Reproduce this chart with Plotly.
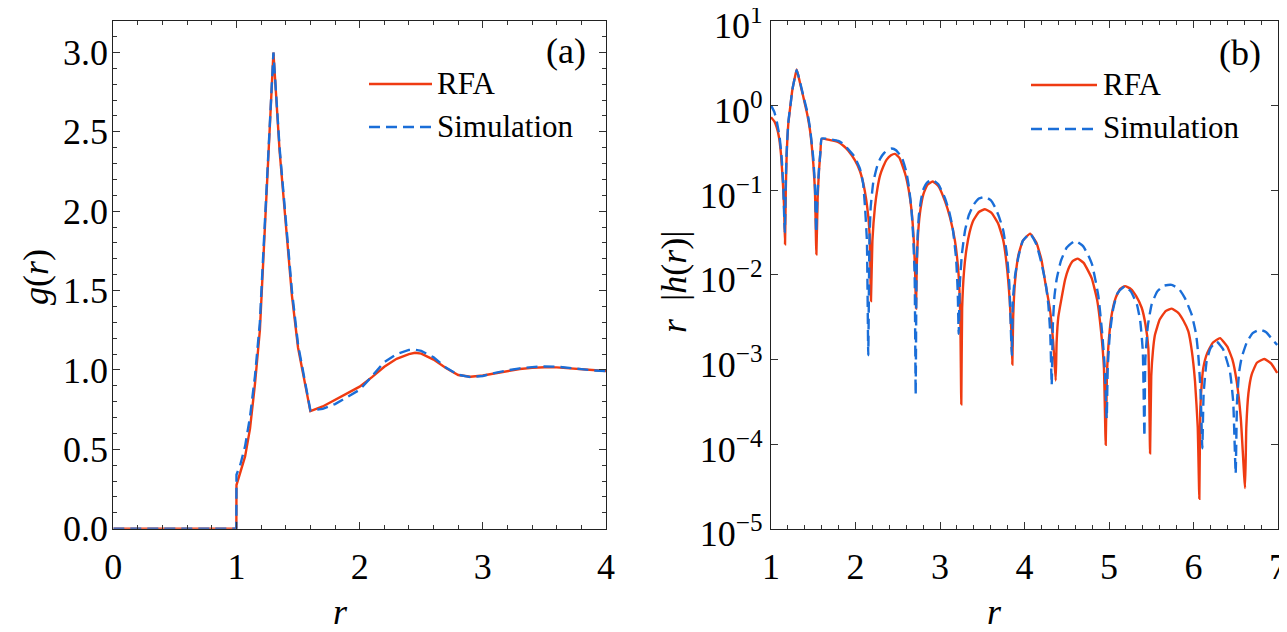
import plotly.graph_objects as go

# ---------------- data: panel (a) g(r) ----------------
r_g = [0, 0.999, 1.0, 1.03, 1.07, 1.11, 1.15, 1.19, 1.2, 1.25, 1.3, 1.35, 1.4, 1.45, 1.5,
       1.55, 1.6, 1.7, 1.8, 1.9, 2.0, 2.1, 2.2, 2.3, 2.4, 2.45, 2.5, 2.6, 2.7, 2.8, 2.9,
       3.0, 3.1, 3.2, 3.3, 3.4, 3.5, 3.6, 3.7, 3.8, 3.9, 4.0]
g_rfa = [0, 0, 0.275, 0.355, 0.455, 0.63, 0.91, 1.25, 1.41, 2.2, 3.0, 2.38, 1.95, 1.47, 1.14,
         0.93, 0.74, 0.77, 0.81, 0.85, 0.895, 0.955, 1.02, 1.07, 1.10, 1.108, 1.103, 1.065, 1.012, 0.968, 0.957,
         0.965, 0.98, 0.994, 1.006, 1.013, 1.017, 1.016, 1.011, 1.003, 0.997, 0.993]
g_sim = [0, 0, 0.34, 0.40, 0.52, 0.705, 0.96, 1.30, 1.46, 2.24, 3.0, 2.40, 1.97, 1.50, 1.16,
         0.94, 0.745, 0.755, 0.785, 0.83, 0.875, 0.96, 1.05, 1.10, 1.126, 1.127, 1.12, 1.08, 1.015, 0.97, 0.955,
         0.962, 0.982, 0.997, 1.01, 1.018, 1.022, 1.021, 1.015, 1.005, 0.997, 0.993]

# ---------------- data: panel (b) r|h(r)| ----------------
r_h_rfa = [1.000, 1.040, 1.067, 1.095, 1.118, 1.140, 1.155, 1.166, 1.175, 1.185, 1.205, 1.230,
           1.252, 1.280, 1.304, 1.340, 1.383, 1.430, 1.462, 1.501, 1.520, 1.537, 1.552, 1.568,
           1.585, 1.600, 1.700, 1.797, 1.860, 1.915, 1.994, 2.050, 2.100, 2.150, 2.170, 2.183,
           2.200, 2.230, 2.260, 2.290, 2.330, 2.369, 2.420, 2.467, 2.520, 2.586, 2.630, 2.665,
           2.690, 2.705, 2.716, 2.725, 2.743, 2.770, 2.803, 2.850, 2.913, 2.980, 3.059, 3.120,
           3.177, 3.220, 3.240, 3.252, 3.262, 3.285, 3.316, 3.350, 3.394, 3.460, 3.532, 3.610,
           3.690, 3.750, 3.789, 3.825, 3.846, 3.856, 3.866, 3.888, 3.930, 3.980, 4.066, 4.140,
           4.200, 4.243, 4.300, 4.340, 4.369, 4.380, 4.400, 4.440, 4.480, 4.519, 4.570, 4.630,
           4.700, 4.795, 4.860, 4.906, 4.940, 4.961, 4.975, 5.000, 5.032, 5.080, 5.130, 5.190,
           5.260, 5.320, 5.387, 5.430, 5.466, 5.486, 5.500, 5.520, 5.544, 5.600, 5.670, 5.742,
           5.820, 5.880, 5.939, 5.980, 6.018, 6.050, 6.069, 6.080, 6.100, 6.116, 6.160, 6.230,
           6.314, 6.400, 6.460, 6.511, 6.560, 6.610, 6.625, 6.650, 6.688, 6.750, 6.838, 6.920, 6.990]
h_rfa = [0.726, 0.646, 0.553, 0.417, 0.267, 0.126, 0.0631, 0.0229, 0.100, 0.251, 0.607, 1.0,
         1.507, 2.089, 2.649, 1.905, 1.253, 0.776, 0.505, 0.204, 0.100, 0.0174, 0.0794, 0.170,
         0.282, 0.402, 0.389, 0.367, 0.331, 0.292, 0.224, 0.170, 0.110, 0.0501, 0.0251, 0.0049,
         0.0251, 0.0631, 0.105, 0.148, 0.191, 0.229, 0.257, 0.267, 0.240, 0.158, 0.100, 0.0550,
         0.0251, 0.0112, 0.00398, 0.0126, 0.0331, 0.0603, 0.0891, 0.115, 0.126, 0.112, 0.0741, 0.0468,
         0.0251, 0.0100, 0.00316, 0.000295, 0.00398, 0.0112, 0.0209, 0.0316, 0.0437, 0.0550, 0.0594, 0.0537,
         0.0398, 0.0251, 0.0132, 0.00501, 0.00200, 0.000871, 0.00316, 0.00832, 0.0174, 0.0251, 0.0306, 0.0240,
         0.0151, 0.00841, 0.00398, 0.00158, 0.000562, 0.00158, 0.00316, 0.00537, 0.00871, 0.0117, 0.0145, 0.0155,
         0.0138, 0.00912, 0.00501, 0.00214, 0.000794, 0.0000977, 0.000631, 0.00178, 0.00339, 0.00537, 0.00676, 0.00733,
         0.00676, 0.00562, 0.00407, 0.00263, 0.00135, 0.0000776, 0.000631, 0.00126, 0.00195, 0.00295, 0.00372, 0.00398,
         0.00355, 0.00288, 0.00214, 0.00126, 0.00055, 0.000158, 0.0000226, 0.000251, 0.000562, 0.000794, 0.00117, 0.00158,
         0.00178, 0.00141, 0.00100, 0.00055, 0.000200, 0.0000302, 0.000158, 0.000398, 0.000661, 0.000912, 0.00101, 0.000891, 0.000692]

r_h_sim = [1.000, 1.040, 1.070, 1.100, 1.125, 1.145, 1.163, 1.175, 1.185, 1.205, 1.230, 1.252,
           1.280, 1.304, 1.340, 1.383, 1.430, 1.462, 1.500, 1.520, 1.535, 1.550, 1.568, 1.585,
           1.600, 1.700, 1.797, 1.860, 1.915, 1.985, 2.053, 2.090, 2.112, 2.135, 2.151, 2.165,
           2.180, 2.210, 2.250, 2.290, 2.340, 2.390, 2.428, 2.480, 2.550, 2.600, 2.630, 2.660,
           2.680, 2.700, 2.712, 2.722, 2.735, 2.750, 2.775, 2.800, 2.850, 2.910, 2.980, 3.060,
           3.110, 3.150, 3.190, 3.210, 3.221, 3.235, 3.260, 3.296, 3.340, 3.400, 3.460, 3.532,
           3.600, 3.650, 3.700, 3.749, 3.790, 3.820, 3.850, 3.862, 3.890, 3.930, 3.980, 4.066,
           4.140, 4.200, 4.250, 4.282, 4.305, 4.322, 4.335, 4.355, 4.381, 4.430, 4.500, 4.598,
           4.690, 4.750, 4.800, 4.874, 4.920, 4.950, 4.973, 4.985, 5.010, 5.050, 5.100, 5.190,
           5.260, 5.330, 5.370, 5.400, 5.419, 5.430, 5.460, 5.505, 5.570, 5.650, 5.742, 5.830,
           5.900, 5.978, 6.030, 6.057, 6.085, 6.104, 6.120, 6.156, 6.200, 6.274, 6.350, 6.432,
           6.470, 6.499, 6.515, 6.540, 6.570, 6.630, 6.700, 6.787, 6.860, 6.930, 6.990]
h_sim = [1.0, 0.832, 0.631, 0.437, 0.251, 0.112, 0.0316, 0.126, 0.282, 0.631, 1.0, 1.514,
         2.089, 2.630, 1.950, 1.288, 0.832, 0.537, 0.240, 0.112, 0.0316, 0.0891, 0.178, 0.282,
         0.407, 0.398, 0.380, 0.347, 0.302, 0.251, 0.178, 0.120, 0.0646, 0.0251, 0.00112, 0.0251,
         0.0631, 0.123, 0.182, 0.233, 0.275, 0.302, 0.309, 0.295, 0.240, 0.166, 0.112, 0.0631,
         0.0316, 0.0100, 0.00038, 0.0100, 0.0282, 0.0501, 0.0759, 0.100, 0.123, 0.132, 0.117, 0.0794,
         0.0550, 0.0355, 0.0158, 0.00631, 0.00200, 0.00794, 0.0178, 0.0331, 0.0501, 0.0676, 0.0794, 0.0832,
         0.0759, 0.0631, 0.0479, 0.0331, 0.0178, 0.00794, 0.00112, 0.00501, 0.0100, 0.0166, 0.0251, 0.0306,
         0.0229, 0.0138, 0.00794, 0.00447, 0.00200, 0.000501, 0.00251, 0.00562, 0.00891, 0.0145, 0.0209, 0.0251,
         0.0219, 0.0174, 0.0132, 0.00562, 0.00200, 0.000794, 0.000200, 0.000794, 0.00200, 0.00398, 0.00603, 0.00733,
         0.00631, 0.00447, 0.00282, 0.00126, 0.000123, 0.00100, 0.00251, 0.00447, 0.00631, 0.00741, 0.00759, 0.00676,
         0.00525, 0.00339, 0.00200, 0.00112, 0.000398, 0.0000891, 0.000398, 0.000955, 0.00135, 0.00162, 0.00132, 0.000708,
         0.000316, 0.0000447, 0.000316, 0.000708, 0.00105, 0.00158, 0.00204, 0.00224, 0.00209, 0.00174, 0.00148]

series_names = ["RFA", "Simulation"]
log_tick_vals = [1e-5, 1e-4, 1e-3, 1e-2, 1e-1, 1e0, 1e1]
log_tick_text = ["10<sup>−5</sup>", "10<sup>−4</sup>", "10<sup>−3</sup>", "10<sup>−2</sup>",
                 "10<sup>−1</sup>", "10<sup>0</sup>", "10<sup>1</sup>"]

# ---------------- style ----------------
# the page body has an 8 px default margin, so the figure is drawn from (8, 8)
OFF = 8
W, H = 1287 - OFF, 632 - OFF
RED = "#ef3b12"
BLUE = "#1a6ed8"
DASH = "11px,6px"
FONT = "Liberation Serif, Times New Roman, serif"
LW = 2.4
TICK_SIZE = 36

def px(x):
    return (x - OFF) / W

def py(y):
    return 1 - (y - OFF) / H

fig = go.Figure()
fig.add_trace(go.Scatter(x=r_g, y=g_rfa, mode="lines", name=series_names[0],
                         line=dict(color=RED, width=LW), xaxis="x", yaxis="y", showlegend=False))
fig.add_trace(go.Scatter(x=r_g, y=g_sim, mode="lines", name=series_names[1],
                         line=dict(color=BLUE, width=LW, dash=DASH), xaxis="x", yaxis="y", showlegend=False))
fig.add_trace(go.Scatter(x=r_h_rfa, y=h_rfa, mode="lines", name=series_names[0],
                         line=dict(color=RED, width=LW, shape="spline", smoothing=0.4),
                         xaxis="x2", yaxis="y2", showlegend=False))
fig.add_trace(go.Scatter(x=r_h_sim, y=h_sim, mode="lines", name=series_names[1],
                         line=dict(color=BLUE, width=LW, dash=DASH, shape="spline", smoothing=0.4),
                         xaxis="x2", yaxis="y2", showlegend=False))

axis_common = dict(showline=True, linecolor="#222", linewidth=1.3, mirror="ticks",
                   ticks="inside", ticklen=7, tickwidth=1.2, tickcolor="#333",
                   showgrid=False, zeroline=False, automargin=False,
                   ticklabeloverflow="allow",
                   tickfont=dict(family=FONT, size=TICK_SIZE, color="black"))

ydom = [py(528.7), py(20.7)]
fig.update_layout(
    template="none",
    width=W, height=H, margin=dict(l=0, r=0, t=0, b=0, autoexpand=False),
    paper_bgcolor="white", plot_bgcolor="white",
    xaxis=dict(domain=[px(113.3), px(606)], range=[0, 4], dtick=1, tick0=0,
               minor=dict(dtick=0.2, ticks="inside", ticklen=4, tickcolor="#333"),
               ticklabelstandoff=6, anchor="y", **axis_common),
    yaxis=dict(domain=ydom, range=[0, 3.2], dtick=0.5, tick0=0, tickformat=".1f",
               minor=dict(dtick=0.1, ticks="inside", ticklen=4, tickcolor="#333"),
               ticklabelstandoff=-3, anchor="x", **axis_common),
    xaxis2=dict(domain=[px(771), px(1278)], range=[1, 7], dtick=1, tick0=1,
                minor=dict(dtick=0.2, ticks="inside", ticklen=4, tickcolor="#333"),
                ticklabelstandoff=6, anchor="y2", **axis_common),
    yaxis2=dict(domain=ydom, type="log", range=[-5, 1.0002], tickvals=log_tick_vals,
                ticktext=log_tick_text, ticklabelstandoff=0, ticklabelshift=5,
                anchor="x2", **axis_common),
)

ann_font = dict(family=FONT, size=36, color="black")
leg_font = dict(family=FONT, size=31, color="black")
annotations = [
    dict(text="<i>g</i>(<i>r</i>)", x=px(36), y=py(277), textangle=-90, font=ann_font),
    dict(text="<i>r</i>&nbsp;&nbsp;|<i>h</i>(<i>r</i>)|", x=px(674), y=py(282), textangle=-90, font=ann_font),
    dict(text="<i>r</i>", x=px(340), y=py(612), font=ann_font),
    dict(text="<i>r</i>", x=px(994), y=py(612), font=ann_font),
    dict(text="(a)", x=px(566), y=py(51), font=ann_font),
    dict(text="(b)", x=px(1240), y=py(53), font=ann_font),
    dict(text=series_names[0], x=px(435), y=py(83), xanchor="left", font=leg_font),
    dict(text=series_names[1], x=px(435), y=py(126), xanchor="left", font=leg_font),
    dict(text=series_names[0], x=px(1101), y=py(84), xanchor="left", font=leg_font),
    dict(text=series_names[1], x=px(1101), y=py(128), xanchor="left", font=leg_font),
]
for a in annotations:
    a.update(xref="paper", yref="paper", showarrow=False)
    a.setdefault("xanchor", "center")
    a.setdefault("yanchor", "middle")
fig.update_layout(annotations=annotations)

shapes = [
    dict(type="line", x0=px(369), x1=px(432), y0=py(84), y1=py(84), line=dict(color=RED, width=LW)),
    dict(type="line", x0=px(369), x1=px(432), y0=py(127), y1=py(127), line=dict(color=BLUE, width=LW, dash=DASH)),
    dict(type="line", x0=px(1031), x1=px(1097), y0=py(85), y1=py(85), line=dict(color=RED, width=LW)),
    dict(type="line", x0=px(1031), x1=px(1097), y0=py(129), y1=py(129), line=dict(color=BLUE, width=LW, dash=DASH)),
]
for s in shapes:
    s.update(xref="paper", yref="paper")
fig.update_layout(shapes=shapes)

fig.write_html("out.html")
